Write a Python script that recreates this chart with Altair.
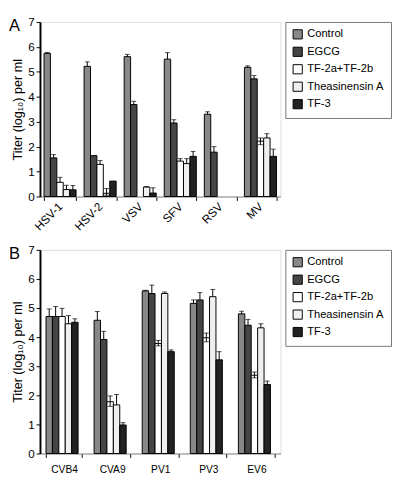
import altair as alt
import pandas as pd

treatments = ["Control", "EGCG", "TF-2a+TF-2b", "Theasinensin A", "TF-3"]
colors = ["#888888", "#454545", "#ffffff", "#efefef", "#222222"]

# Panel A
a_viruses = ["HSV-1", "HSV-2", "VSV", "SFV", "RSV", "MV"]
a_control = [5.74, 5.22, 5.61, 5.51, 3.30, 5.18]
a_control_hi = [5.78, 5.40, 5.70, 5.77, 3.40, 5.24]
a_egcg = [1.55, 1.64, 3.69, 2.95, 1.78, 4.72]
a_egcg_hi = [1.68, 1.64, 3.82, 3.08, 2.00, 4.85]
a_tf2 = [0.57, 1.29, 0.0, 1.42, 0.0, 2.22]
a_tf2_hi = [0.77, 1.44, 0.0, 1.52, 0.0, 2.35]
a_tf2_lo = [0.57, 1.29, 0.0, 1.42, 0.0, 2.08]
a_theas = [0.28, 0.13, 0.38, 1.32, 0.0, 2.35]
a_theas_hi = [0.45, 0.32, 0.40, 1.52, 0.0, 2.52]
a_theas_lo = [0.28, 0.05, 0.38, 1.32, 0.0, 2.35]
a_tf3 = [0.27, 0.62, 0.14, 1.61, 0.0, 1.61]
a_tf3_hi = [0.44, 0.62, 0.35, 1.81, 0.0, 1.90]

# Panel B
b_viruses = ["CVB4", "CVA9", "PV1", "PV3", "EV6"]
b_control = [4.71, 4.58, 5.59, 5.16, 4.80]
b_control_hi = [4.97, 4.88, 5.61, 5.28, 4.89]
b_egcg = [4.71, 3.92, 5.50, 5.28, 4.41]
b_egcg_hi = [5.05, 4.20, 5.79, 5.53, 4.61]
b_tf2 = [4.71, 1.78, 3.78, 3.98, 2.69]
b_tf2_hi = [4.99, 1.98, 3.89, 4.14, 2.80]
b_tf2_lo = [4.71, 1.62, 3.70, 3.84, 2.60]
b_theas = [4.46, 1.67, 5.50, 5.39, 4.32]
b_theas_hi = [4.74, 2.03, 5.55, 5.64, 4.46]
b_tf3 = [4.51, 0.98, 3.50, 3.22, 2.37]
b_tf3_hi = [4.63, 1.06, 3.56, 3.50, 2.49]

y_ticks = [0, 1, 2, 3, 4, 5, 6, 7]


def build(viruses, series):
    rows = []
    for t, (vals, hi, lo) in zip(treatments, series):
        for i, v in enumerate(viruses):
            rows.append({"virus": v, "treatment": t, "value": vals[i],
                         "hi": hi[i], "lo": lo[i] if lo else vals[i]})
    return pd.DataFrame(rows)


df_a = build(a_viruses, [
    (a_control, a_control_hi, None),
    (a_egcg, a_egcg_hi, None),
    (a_tf2, a_tf2_hi, a_tf2_lo),
    (a_theas, a_theas_hi, a_theas_lo),
    (a_tf3, a_tf3_hi, None),
])
df_b = build(b_viruses, [
    (b_control, b_control_hi, None),
    (b_egcg, b_egcg_hi, None),
    (b_tf2, b_tf2_hi, b_tf2_lo),
    (b_theas, b_theas_hi, None),
    (b_tf3, b_tf3_hi, None),
])

FONT = "Liberation Sans"
YTITLE = "Titer (log\u2081\u2080) per ml"


def panel(df, viruses, letter, height, x_axis, pad_inner):
    xs = alt.X("virus:N", sort=viruses, title=None,
               scale=alt.Scale(paddingInner=pad_inner, paddingOuter=pad_inner / 2),
               axis=x_axis)
    xo = alt.XOffset("treatment:N", sort=treatments,
                     scale=alt.Scale(paddingInner=0, paddingOuter=0))
    yscale = alt.Scale(domain=[0, 7], nice=False)
    yaxis = alt.Axis(title=YTITLE, values=y_ticks, labelOverlap=False,
                     titleFontSize=13, titleFontWeight="normal", titleColor="black",
                     titleFont=FONT, labelFontSize=12, labelColor="black",
                     domainColor="black", domainWidth=2, tickColor="black",
                     tickSize=4, labelPadding=2, titlePadding=3, grid=False)
    base = alt.Chart(df)
    bars = base.transform_filter("datum.value > 0").mark_bar(
        stroke="black", strokeWidth=1).encode(
        x=xs, xOffset=xo, y=alt.Y("value:Q", scale=yscale, axis=yaxis, title=YTITLE),
        color=alt.Color("treatment:N", sort=treatments,
                        scale=alt.Scale(domain=treatments, range=colors),
                        legend=alt.Legend(title=None, orient="right", offset=5,
                                          symbolType="square", symbolSize=90,
                                          symbolStrokeColor="black", symbolStrokeWidth=1,
                                          labelFontSize=11.5, labelFont=FONT, labelColor="black",
                                          strokeColor="#777777", fillColor="white",
                                          padding=7, rowPadding=4, cornerRadius=0)))
    err = base.transform_filter("datum.hi > datum.value || datum.lo < datum.value")
    rule = err.mark_rule(color="black", strokeWidth=1).encode(
        x=xs, xOffset=xo, y=alt.Y("lo:Q", scale=yscale, axis=yaxis, title=YTITLE),
        y2="hi:Q")
    cap_hi = err.mark_tick(color="black", thickness=1, size=5).encode(
        x=xs, xOffset=xo, y=alt.Y("hi:Q", scale=yscale, axis=yaxis, title=YTITLE))
    cap_lo = err.transform_filter("datum.lo < datum.value").mark_tick(
        color="black", thickness=1, size=5).encode(
        x=xs, xOffset=xo, y=alt.Y("lo:Q", scale=yscale, axis=yaxis, title=YTITLE))
    lab = alt.Chart(pd.DataFrame({"t": [letter]})).mark_text(
        fontSize=17, font=FONT, align="left", baseline="top", color="black").encode(
        text="t:N", x=alt.value(-32), y=alt.value(-4))
    return alt.layer(bars, rule, cap_hi, cap_lo, lab).properties(width=248, height=height)


axis_a = alt.Axis(labelAngle=315, labelAlign="right", labelBaseline="middle",
                  labelFontSize=12, labelFont=FONT, labelColor="black",
                  tickBand="extent", domainColor="#888888", tickColor="black",
                  tickSize=4, labelPadding=4)
axis_b = alt.Axis(labelAngle=0, labelFontSize=10.5, labelFont=FONT, labelColor="black",
                  tickBand="extent", domainColor="#888888", tickColor="black",
                  tickSize=4, labelPadding=8)

pa = panel(df_a, a_viruses, "A", 180, axis_a, 0.2)
pb = panel(df_b, b_viruses, "B", 210, axis_b, 0.25)

chart = alt.vconcat(pa, pb, spacing=10).resolve_scale(color="independent").configure_view(
    stroke="#888888", strokeWidth=1).configure(font=FONT).properties(
    padding={"left": 0, "top": 0, "right": 0, "bottom": 0})

chart.save("out.html", embed_options={"renderer": "svg", "actions": False})
